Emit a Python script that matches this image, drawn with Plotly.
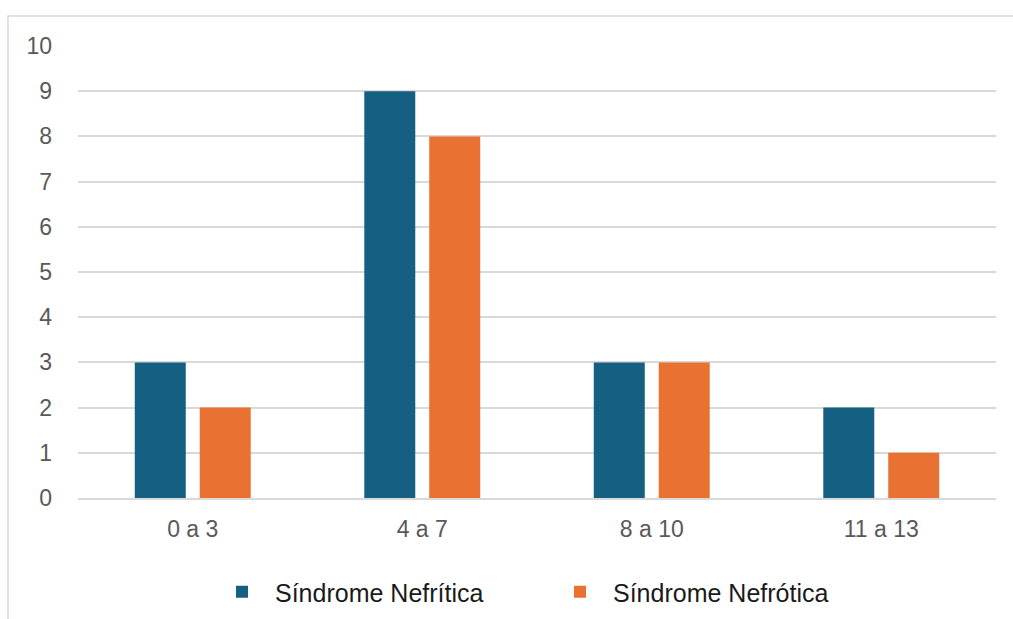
import plotly.graph_objects as go

categories = ["0 a 3", "4 a 7", "8 a 10", "11 a 13"]
nefritica = [3, 9, 3, 2]
nefrotica = [2, 8, 3, 1]
series_names = ["Síndrome Nefrítica", "Síndrome Nefrótica"]
y_ticks = list(range(0, 11))

W, H = 1013, 619
ml, mr, mt, mb = 78, 17, 46, 121
pw, ph = W - ml - mr, H - mt - mb

fig = go.Figure()
fig.add_trace(go.Bar(x=categories, y=nefritica, name=series_names[0],
                     marker=dict(color="#156082", line=dict(width=0))))
fig.add_trace(go.Bar(x=categories, y=nefrotica, name=series_names[1],
                     marker=dict(color="#E97132", line=dict(width=0))))

font_family = "Liberation Sans, Arial, sans-serif"

fig.update_layout(
    width=W, height=H,
    margin=dict(l=ml, r=mr, t=mt, b=mb, pad=0, autoexpand=False),
    paper_bgcolor="white", plot_bgcolor="white",
    barmode="group", bargap=0.434, bargroupgap=0.215,
    font=dict(family=font_family, size=23, color="#595959"),
    showlegend=True,
    legend=dict(orientation="h", xref="container", x=209 / W, xanchor="left",
                yref="container", y=1 - 592 / H, yanchor="middle",
                font=dict(size=25, color="#1a1a1a", family=font_family),
                entrywidth=267, entrywidthmode="pixels", itemwidth=56,
                bgcolor="rgba(0,0,0,0)"),
    xaxis=dict(showgrid=False, showline=True, linecolor="#d9d9d9", linewidth=1.5,
               ticks="", ticklabelstandoff=10, tickfont=dict(size=23, color="#595959")),
    yaxis=dict(range=[0, 10], tickvals=y_ticks, showgrid=True, gridcolor="#d9d9d9",
               gridwidth=1.5, zeroline=False, showline=False, ticks="",
               ticklabelstandoff=25, tickfont=dict(size=23, color="#595959")),
    shapes=[dict(type="rect", xref="paper", yref="paper",
                 x0=-(ml - 8) / pw, x1=(W + 5 - ml) / pw,
                 y0=-(H + 5 - (H - mb)) / ph,
                 y1=1 + (mt - 16) / ph,
                 line=dict(color="#d9d9d9", width=1.5), fillcolor="rgba(0,0,0,0)",
                 layer="below")],
)

fig.write_html(
    "out.html",
    config={"displayModeBar": False},
    post_script="document.body.style.margin='0';document.body.style.overflow='hidden';",
)
